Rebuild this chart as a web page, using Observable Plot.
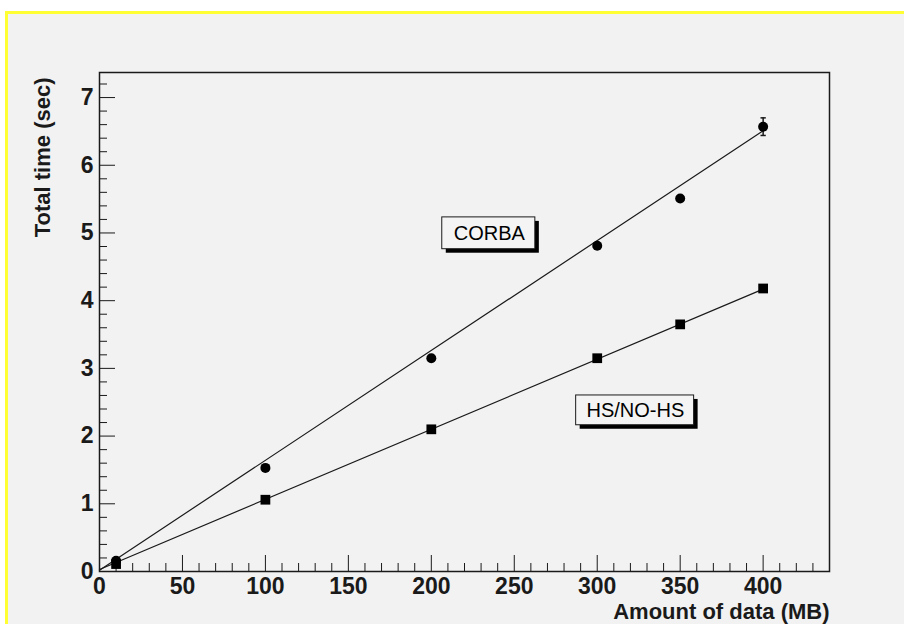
<!DOCTYPE html>
<html>
<head>
<meta charset="utf-8">
<script src="https://cdn.jsdelivr.net/npm/d3@7"></script>
<script src="https://cdn.jsdelivr.net/npm/@observablehq/plot@0.6"></script>
<style>
  html, body { margin: 0; padding: 0; background: #ffffff; width: 904px; height: 624px; overflow: hidden; }
  #pad { position: absolute; left: 5px; top: 11px; width: 904px; height: 624px; background: #f2f2f2;
         border-top: 3px solid #ffff33; border-left: 3px solid #ffff33; }
  #chart { position: absolute; left: 0; top: 0; }
</style>
</head>
<body>
<div id="pad"></div>
<div id="chart"></div>
<script>
// ---- data ----
const dataMB = [10, 100, 200, 300, 350, 400];
const corbaTime = [0.16, 1.53, 3.15, 4.81, 5.51, 6.57];
const hsTime = [0.11, 1.06, 2.10, 3.15, 3.65, 4.18];
const corbaErr = [0, 0, 0, 0.04, 0, 0.13];

const fitX = [0, 400];
const corbaFit = [0.02, 6.51];
const hsFit = [0.03, 4.17];

const labelText = ["CORBA", "HS/NO-HS"];
const labelX = [235, 323];
const labelY = [4.99, 2.38];
const boxX1 = [206.6, 287.3];
const boxX2 = [262.7, 358.4];
const boxY1 = [4.76, 2.16];
const boxY2 = [5.23, 2.60];

const xMajorTicks = [0, 50, 100, 150, 200, 250, 300, 350, 400];
const yMajorTicks = [0, 1, 2, 3, 4, 5, 6, 7];
const xMinorTicks = d3.range(0, 441, 10).filter(v => v % 50 !== 0);
const yMinorTicks = d3.range(0, 37).map(i => +(i * 0.2).toFixed(1)).filter(v => Math.abs(v - Math.round(v)) > 1e-9);

const xTitle = "Amount of data (MB)";
const yTitle = "Total time (sec)";

// ---- tables ----
const corba = dataMB.map((x, i) => ({x, y: corbaTime[i], e: corbaErr[i]}));
const hs = dataMB.map((x, i) => ({x, y: hsTime[i]}));
const corbaLine = fitX.map((x, i) => ({x, y: corbaFit[i]}));
const hsLine = fitX.map((x, i) => ({x, y: hsFit[i]}));
const labels = labelText.map((t, i) => ({t, x: labelX[i], y: labelY[i], x1: boxX1[i], x2: boxX2[i], y1: boxY1[i], y2: boxY2[i]}));
const errs = corba.filter(d => d.e > 0);

const ink = "#1a1a1a";
const chart = Plot.plot({
  width: 904,
  height: 624,
  marginLeft: 99,
  marginRight: 75,
  marginTop: 72,
  marginBottom: 53,
  style: {background: "transparent", fontFamily: "'Liberation Sans', Arial, sans-serif", color: ink},
  x: {domain: [0, 440]},
  y: {domain: [0, 7.37]},
  marks: [
    // ticks inward
    Plot.axisX({ticks: xMajorTicks, tickSize: -16, text: null, label: null, stroke: ink}),
    Plot.axisX({ticks: xMinorTicks, tickSize: -8, text: null, label: null, stroke: ink}),
    Plot.axisY({ticks: yMajorTicks, tickSize: -16, text: null, label: null, stroke: ink}),
    Plot.axisY({ticks: yMinorTicks, tickSize: -8, text: null, label: null, stroke: ink}),
    // tick labels
    Plot.axisX({ticks: xMajorTicks, tickSize: 0, tickPadding: 6, label: null, fontSize: 23, fontWeight: "bold", fill: ink, tickFormat: d => String(d)}),
    Plot.axisY({ticks: yMajorTicks, tickSize: 0, tickPadding: 6, label: null, fontSize: 23, fontWeight: "bold", fill: ink, tickFormat: d => String(d)}),
    // titles
    Plot.text([xTitle], {frameAnchor: "bottom-right", text: d => d, textAnchor: "end", lineAnchor: "middle", dy: 40, fontSize: 22, fontWeight: "bold", fill: ink}),
    Plot.text([yTitle], {frameAnchor: "top-left", text: d => d, textAnchor: "end", lineAnchor: "middle", rotate: -90, dx: -57, dy: 5, fontSize: 22, fontWeight: "bold", fill: ink}),
    // fit lines
    Plot.line(corbaLine, {x: "x", y: "y", stroke: ink, strokeWidth: 1.2}),
    Plot.line(hsLine, {x: "x", y: "y", stroke: ink, strokeWidth: 1.2}),
    // error bars
    Plot.ruleX(errs, {x: "x", y1: d => d.y - d.e, y2: d => d.y + d.e, stroke: ink, strokeWidth: 1.5}),
    Plot.link(errs, {x1: d => d.x - 1.6, x2: d => d.x + 1.6, y1: d => d.y + d.e, y2: d => d.y + d.e, stroke: ink, strokeWidth: 1.5}),
    Plot.link(errs, {x1: d => d.x - 1.6, x2: d => d.x + 1.6, y1: d => d.y - d.e, y2: d => d.y - d.e, stroke: ink, strokeWidth: 1.5}),
    // markers
    Plot.dot(corba, {x: "x", y: "y", r: 5, fill: "#000", symbol: "circle"}),
    Plot.dot(hs, {x: "x", y: "y", r: 5.5, fill: "#000", symbol: "square"}),
    // label boxes
    Plot.rect(labels, {x1: "x1", x2: "x2", y1: "y1", y2: "y2", fill: "#000", dx: 4, dy: 4}),
    Plot.rect(labels, {x1: "x1", x2: "x2", y1: "y1", y2: "y2", fill: "#f4f4f4", stroke: ink, strokeWidth: 1}),
    Plot.text(labels, {x: "x", y: "y", text: "t", fontSize: 20, fill: "#000", fontWeight: "normal"}),
    // frame
    Plot.frame({stroke: ink, strokeWidth: 1.5})
  ]
});
document.getElementById("chart").appendChild(chart);
</script>
</body>
</html>
